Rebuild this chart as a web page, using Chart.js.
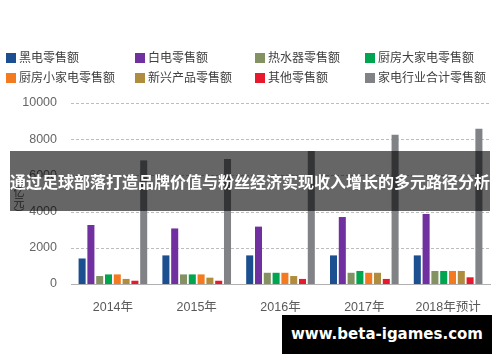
<!DOCTYPE html>
<html lang="zh">
<head>
<meta charset="UTF-8">
<title>家电零售额</title>
<script src="https://cdn.jsdelivr.net/npm/chart.js"></script>
<style>
  html, body { margin: 0; padding: 0; background: #fff; }
  #wrap { position: relative; width: 500px; height: 362px; overflow: hidden;
          font-family: "Liberation Sans", "Noto Sans CJK SC", sans-serif; }
  #chart { position: absolute; left: 0; top: 0; }
  .lg { position: absolute; font-size: 12px; color: #404040; line-height: 14px; white-space: nowrap; }
  .lg i { display: inline-block; width: 10px; height: 10px; margin-right: 3px; vertical-align: -1px; }
  #ytitle { position: absolute; left: 11px; top: 175px; writing-mode: vertical-rl;
            font-size: 11px; color: #595959; font-family: "Noto Sans CJK SC", sans-serif; }
  #banner { position: absolute; left: 10px; top: 151px; width: 480px; height: 60px;
            background: rgba(0,0,0,0.6); color: #fff; font-weight: bold; font-size: 16px;
            line-height: 60px; text-align: center; font-family: "Noto Sans CJK SC", sans-serif;
            white-space: nowrap; }
  #mark { position: absolute; left: 282px; top: 315px; width: 210px; height: 39px;
          background: #000; color: #fff; font-weight: bold; font-size: 15px; line-height: 39px;
          text-align: center; font-family: "DejaVu Sans", sans-serif; }
</style>
</head>
<body>
<div id="wrap">
  <canvas id="chart" width="500" height="362"></canvas>
  <div id="legend"></div>
  <div id="ytitle">（亿元）</div>
  <div id="banner">通过足球部落打造品牌价值与粉丝经济实现收入增长的多元路径分析</div>
  <div id="mark">www.beta-igames.com</div>
</div>

<script>
// 数据
var years = ['2014年', '2015年', '2016年', '2017年', '2018年预计'];
var seriesNames = ['黑电零售额', '白电零售额', '热水器零售额', '厨房大家电零售额',
                   '厨房小家电零售额', '新兴产品零售额', '其他零售额', '家电行业合计零售额'];
var seriesColors = ['#1b4f8f', '#7030a0', '#849163', '#00a550',
                    '#f47a20', '#b08c3e', '#e8192c', '#808285'];
var heidian   = [1410, 1580, 1580, 1580, 1580];
var baidian   = [3260, 3070, 3170, 3700, 3870];
var reshuiqi  = [440, 530, 620, 620, 720];
var chufangDa = [530, 530, 620, 720, 720];
var chufangXiao = [530, 530, 620, 620, 720];
var xinxing   = [280, 350, 440, 620, 720];
var qita      = [180, 180, 280, 280, 370];
var heji      = [6830, 6900, 7350, 8250, 8580];
var yTicks    = [0, 2000, 4000, 6000, 8000, 10000];

var seriesValues = [heidian, baidian, reshuiqi, chufangDa, chufangXiao, xinxing, qita, heji];

// 图例 (两行四列)
var legendX = [6, 135, 255, 365];
var legendY = [51, 71];
var legendBox = document.getElementById('legend');
seriesNames.forEach(function (name, i) {
    var d = document.createElement('div');
    d.className = 'lg';
    d.style.left = legendX[i % 4] + 'px';
    d.style.top = legendY[Math.floor(i / 4)] + 'px';
    d.innerHTML = '<i style="background:' + seriesColors[i] + '"></i>' + name;
    legendBox.appendChild(d);
});

var datasets = seriesNames.map(function (name, i) {
    return {
        label: name,
        data: seriesValues[i],
        backgroundColor: seriesColors[i],
        categoryPercentage: 0.84,
        barPercentage: 0.8
    };
});

// 虚线网格
var dashedGrid = {
    id: 'dashedGrid',
    beforeDatasetsDraw: function (chart) {
        var c = chart.ctx, a = chart.chartArea, y = chart.scales.y;
        c.save();
        c.strokeStyle = '#bdbdbd';
        c.lineWidth = 1;
        c.setLineDash([3, 2]);
        yTicks.forEach(function (v) {
            if (v === 0) return;
            var py = Math.round(y.getPixelForValue(v)) + 0.5;
            c.beginPath();
            c.moveTo(a.left, py);
            c.lineTo(a.right, py);
            c.stroke();
        });
        c.restore();
    }
};

var ctx = document.getElementById('chart').getContext('2d');
var chart = new Chart(ctx, {
    type: 'bar',
    data: { labels: years, datasets: datasets },
    plugins: [dashedGrid],
    options: {
        responsive: false,
        animation: false,
        layout: { padding: { top: 103, right: 10, left: 0, bottom: 0 } },
        plugins: { legend: { display: false }, tooltip: { enabled: false } },
        scales: {
            x: {
                grid: { display: false },
                border: { display: true, color: '#b0b0b0', width: 1 },
                ticks: { color: '#595959', padding: 8,
                         font: { size: 12.5, family: '"Liberation Sans", "Noto Sans CJK SC", sans-serif' } },
                afterFit: function (s) { s.height = 78; }
            },
            y: {
                min: 0,
                max: 10000,
                afterBuildTicks: function (s) { s.ticks = yTicks.map(function (v) { return { value: v }; }); },
                grid: { display: false },
                border: { display: false },
                ticks: { color: '#666', padding: 6,
                         callback: function (v) { return String(v); },
                         font: { size: 12.5, family: '"Liberation Sans", sans-serif' } },
                afterFit: function (s) { s.width = 71; }
            }
        }
    }
});
</script>
</body>
</html>
